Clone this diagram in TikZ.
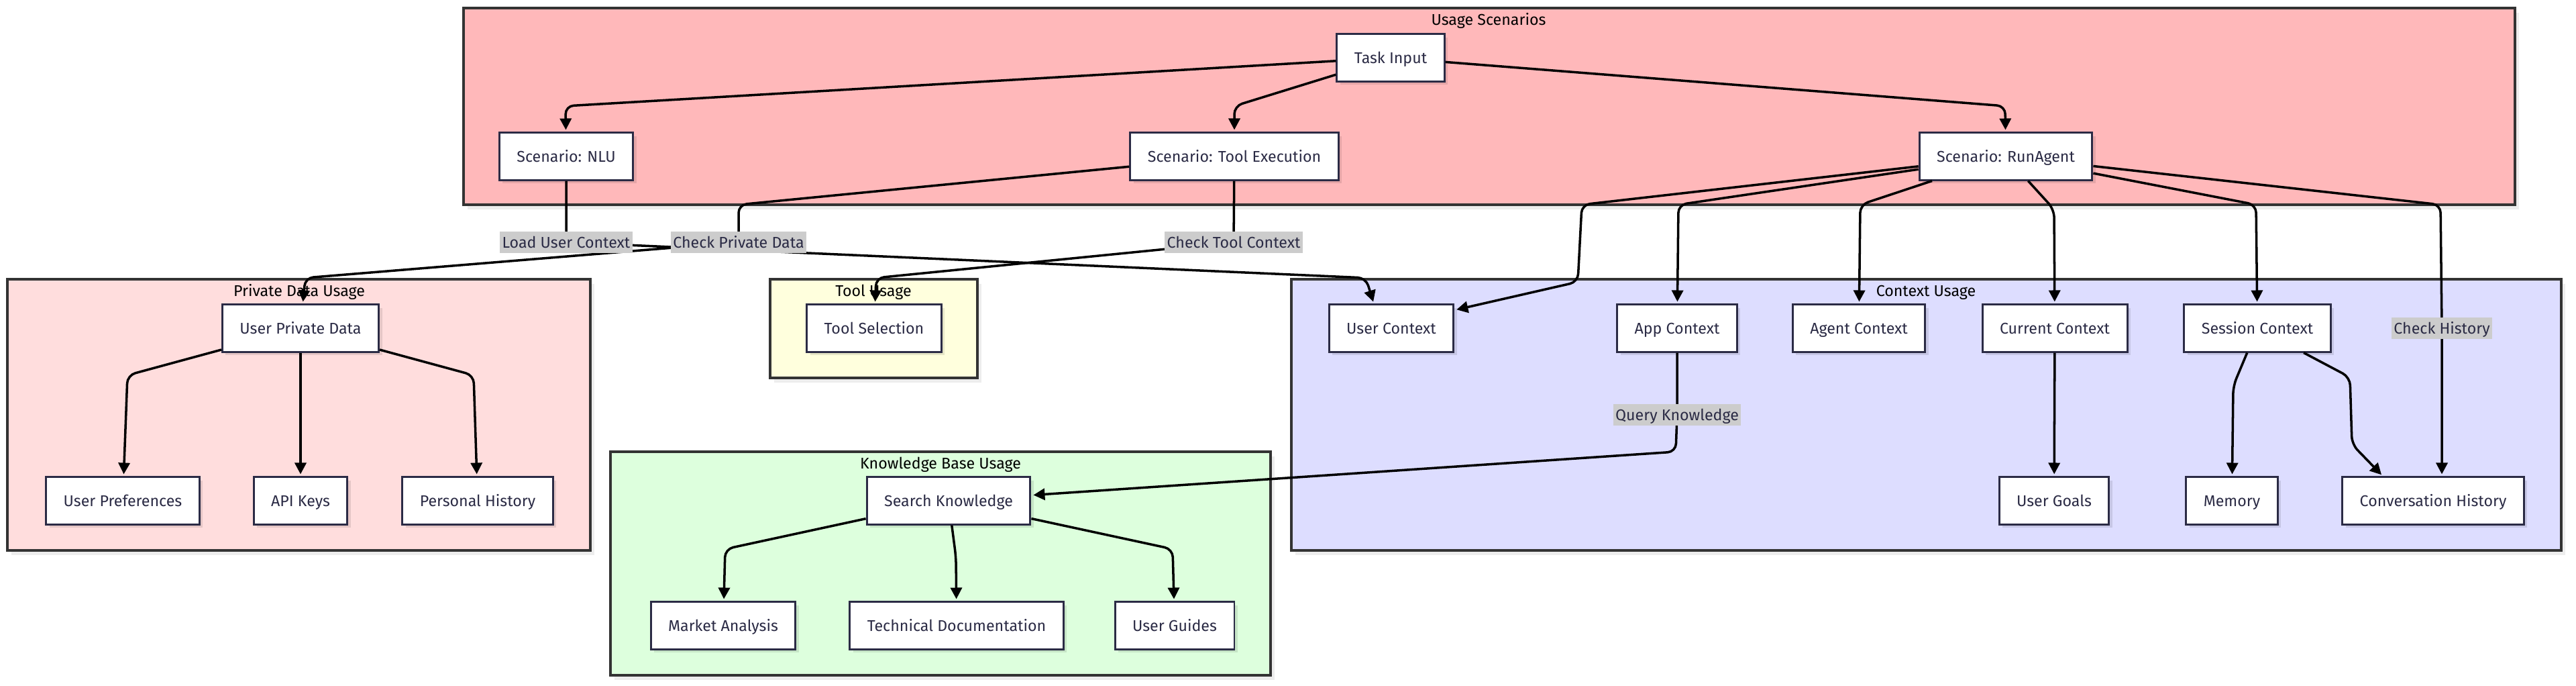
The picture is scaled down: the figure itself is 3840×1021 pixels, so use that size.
\documentclass[tikz,border=0pt]{standalone}
\usepackage{fontspec}
\setmainfont{Fira Sans}
\usepackage{tikz}
\usetikzlibrary{calc,arrows.meta,shadows}
\definecolor{ink}{HTML}{2B2B45}
\definecolor{frame}{HTML}{333333}
\definecolor{scenbg}{HTML}{FFB8BA}
\definecolor{privbg}{HTML}{FFDDDD}
\definecolor{toolbg}{HTML}{FFFFDD}
\definecolor{kbbg}{HTML}{DDFFDD}
\definecolor{ctxbg}{HTML}{DDDDFF}
\definecolor{labbg}{HTML}{CCCCCC}
\newcommand{\diafont}{\fontsize{6.6}{8}\selectfont}
\tikzset{
  grp/.style={draw=frame, line width=0.9pt, drop shadow={shadow xshift=0.06cm, shadow yshift=-0.07cm, fill=black, opacity=0.07}},
  grptitle/.style={text=black, font=\diafont, inner sep=0pt, text height=0.16cm, text depth=0pt},
  box/.style={draw=ink, fill=white, line width=0.85pt, text=ink, font=\diafont, minimum height=0.7cm, inner xsep=0.26cm, text height=0.16cm, text depth=0pt, drop shadow={shadow xshift=0.05cm, shadow yshift=-0.05cm, fill=black, opacity=0.1}},
  edge/.style={draw=black, line width=1pt, rounded corners=0.12cm, -{Triangle[length=0.17cm, width=0.17cm]}, shorten >=0.03cm},
  elab/.style={fill=labbg, text=ink, font=\diafont, inner xsep=1pt, inner ysep=0pt, minimum height=0.32cm, text height=0.16cm, text depth=0pt},
}

\begin{document}
\begin{tikzpicture}[x=0.01cm, y=-0.01cm]
\fill[white] (0,0) rectangle (3840,1021);
\useasboundingbox (0,0) rectangle (3840,1021);

% subgraph frames
\draw[grp, fill=scenbg] (691,12) rectangle (3749,305);
\draw[grp, fill=privbg] (11,416) rectangle (880,820);
\draw[grp, fill=toolbg] (1148,416) rectangle (1457,563);
\draw[grp, fill=kbbg] (910,673) rectangle (1894,1006);
\draw[grp, fill=ctxbg] (1925,416) rectangle (3818,820);

\node[grptitle] (tscen) at (2219,29) {Usage Scenarios};
\node[grptitle] (tpriv) at (446,433) {Private Data Usage};
\node[grptitle] (ttool) at (1302,433) {Tool Usage};
\node[grptitle] (tkb) at (1402,690) {Knowledge Base Usage};
\node[grptitle] (tctx) at (2871,433) {Context Usage};

% usage scenarios
\node[box] (ti) at (2073,86) {Task Input};
\node[box] (nlu) at (844,233) {Scenario: NLU};
\node[box] (te) at (1840,233) {Scenario: Tool Execution};
\node[box] (ra) at (2990,233) {Scenario: RunAgent};

% private data
\node[box] (upd) at (448,489) {User Private Data};
\node[box] (upref) at (183,746) {User Preferences};
\node[box] (apik) at (448,746) {API Keys};
\node[box] (phist) at (712,746) {Personal History};

% tools
\node[box] (tsel) at (1303,489) {Tool Selection};

% knowledge base
\node[box] (sk) at (1414,746) {Search Knowledge};
\node[box] (mkt) at (1078,932) {Market Analysis};
\node[box] (tdoc) at (1426,932) {Technical Documentation};
\node[box] (ugd) at (1751,932) {User Guides};

% context
\node[box] (uctx) at (2074,489) {User Context};
\node[box] (actx) at (2500,489) {App Context};
\node[box] (agctx) at (2771,489) {Agent Context};
\node[box] (cctx) at (3063,489) {Current Context};
\node[box] (sctx) at (3365,489) {Session Context};
\node[box] (ugoal) at (3062,746) {User Goals};
\node[box] (mem) at (3327,746) {Memory};
\node[box] (chist) at (3627,746) {Conversation History};

% label spots on the edges
\coordinate (lload) at (844,361);
\coordinate (lpriv) at (1101,361);
\coordinate (ltool) at (1839,361);
\coordinate (lhist) at (3640,489);
\coordinate (lquery) at (2500,618);

% edges
\draw[edge] (ti) -- (843,158) -- (nlu);
\draw[edge] (ti) -- (1840,158) -- (te);
\draw[edge] (ti) -- (2989,158) -- (ra);

\draw[edge] (nlu) -- (lload) -- (2036,414) -- ($(uctx.north)+(-26,0)$);
\draw[edge] (te) -- (1101,305) -- (lpriv) -- (455,414) -- (upd);
\draw[edge] (te) -- (ltool) -- (1306,414) -- (tsel);

\draw[edge] (ra) -- (2358,305) -- (2352,420) -- (uctx.16);
\draw[edge] (ra) -- (2502,305) -- (actx);
\draw[edge] (ra) -- (2773,305) -- (agctx);
\draw[edge] (ra) -- (3062,312) -- (cctx);
\draw[edge] (ra) -- (3363,305) -- (sctx);
\draw[edge] (ra) -- (3638,305) -- (lhist) -- (lhist |- chist.north);

\draw[edge] (upd) -- (190,559) -- (upref);
\draw[edge] (upd) -- (apik);
\draw[edge] (upd) -- (706,559) -- (phist);

\draw[edge] (actx) -- (lquery) -- (2498,673) -- (sk);
\draw[edge] (sk) -- (1081,818) -- (mkt);
\draw[edge] (sk) -- (1425,830) -- (tdoc);
\draw[edge] (sk) -- (1748,818) -- (ugd);

\draw[edge] (cctx) -- (ugoal);
\draw[edge] (sctx) -- (3329,575) -- (mem);
\draw[edge] (sctx) -- (3503,562) -- (3506,662) -- (chist.154);

% edge labels
\node[elab] (eload) at (lload) {Load User Context};
\node[elab] (epriv) at (lpriv) {Check Private Data};
\node[elab] (etool) at (ltool) {Check Tool Context};
\node[elab] (ehist) at (lhist) {Check History};
\node[elab] (equery) at (lquery) {Query Knowledge};
\end{tikzpicture}
\end{document}
